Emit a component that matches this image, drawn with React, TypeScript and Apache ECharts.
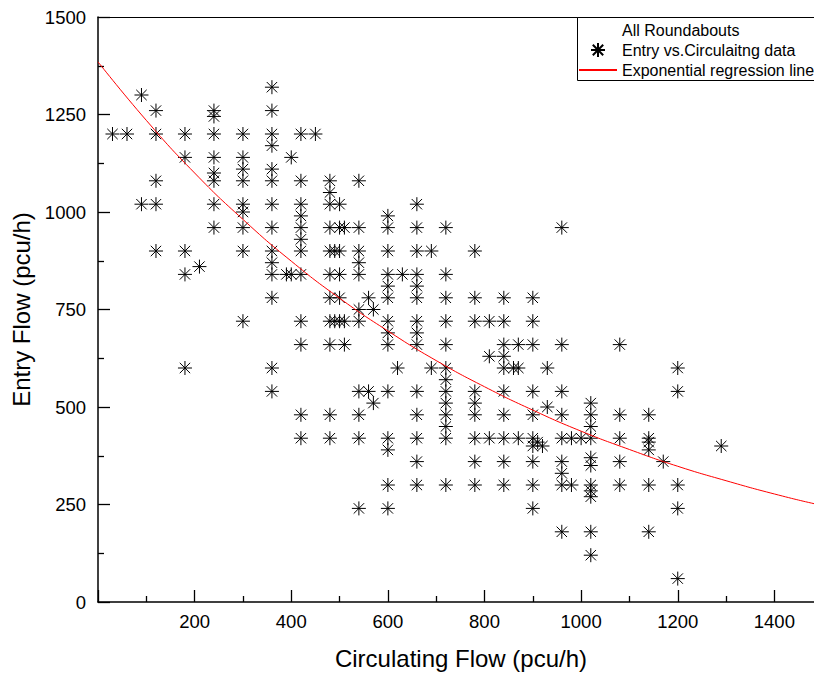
import React, { useEffect, useRef } from "react";
import * as echarts from "echarts";

// Scatter data: circulating flow (x) and entry flow (y), pcu/h
const circulatingFlow = [
  30, 60,
  90, 90,
  120, 120, 120, 120, 120,
  180, 180, 180, 180, 180,
  210,
  240, 240, 240, 240, 240, 240, 240, 240,
  300, 300, 300, 300, 300, 300, 300, 300, 300,
  360, 360, 360, 360, 360, 360, 360, 360, 360, 360, 360, 360, 360, 360,
  390,
  400, 400,
  420, 420, 420, 420, 420, 420, 420, 420, 420, 420, 420, 420,
  450,
  480, 480, 480, 480, 480, 480, 480, 480, 480, 480, 480,
  490, 490,
  500, 500, 500, 500, 500, 500,
  510, 510, 510,
  540, 540, 540, 540, 540, 540, 540, 540, 540, 540, 540,
  560, 560,
  570, 570,
  600, 600, 600, 600, 600, 600, 600, 600, 600, 600, 600, 600, 600, 600,
  620, 630,
  660, 660, 660, 660, 660, 660, 660, 660, 660, 660, 660, 660, 660, 660,
  690, 690,
  720, 720, 720, 720, 720, 720, 720, 720, 720, 720, 720, 720, 720,
  780, 780, 780, 780, 780, 780, 780, 780, 780,
  810, 810, 810,
  840, 840, 840, 840, 840, 840, 840, 840, 840, 840,
  860,
  870, 870, 870,
  900, 900, 900, 900, 900, 900, 900, 900, 900, 900,
  910, 920,
  930, 930,
  960, 960, 960, 960, 960, 960, 960, 960, 960,
  980, 980,
  1000,
  1020, 1020, 1020, 1020, 1020, 1020, 1020, 1020, 1020, 1020, 1020,
  1080, 1080, 1080, 1080, 1080,
  1140, 1140, 1140, 1140, 1140, 1140,
  1170,
  1200, 1200, 1200, 1200, 1200,
  1290,
];
const entryFlow = [
  1200, 1200,
  1300, 1020,
  1260, 1200, 1080, 1020, 900,
  1200, 1140, 900, 840, 600,
  860,
  1260, 1245, 1200, 1140, 1100, 1080, 1020, 960,
  1200, 1140, 1110, 1080, 1020, 1000, 960, 900, 720,
  1320, 1260, 1200, 1170, 1110, 1080, 1020, 960, 900, 870, 840, 780, 600, 540,
  840,
  1140, 840,
  1200, 1080, 1020, 990, 960, 930, 900, 840, 720, 660, 480, 420,
  1200,
  1080, 1050, 1020, 960, 900, 840, 780, 720, 660, 480, 420,
  900, 720,
  1020, 960, 900, 840, 780, 720,
  960, 720, 660,
  1080, 960, 900, 870, 840, 750, 720, 540, 480, 420, 240,
  780, 540,
  750, 510,
  990, 960, 900, 840, 810, 780, 720, 690, 660, 540, 420, 390, 300, 240,
  600, 840,
  1020, 960, 900, 840, 810, 780, 720, 690, 660, 540, 480, 420, 360, 300,
  900, 600,
  960, 840, 780, 720, 660, 600, 570, 540, 510, 480, 450, 420, 300,
  900, 780, 720, 540, 510, 480, 420, 360, 300,
  720, 630, 420,
  780, 720, 660, 630, 600, 540, 480, 420, 360, 300,
  600,
  660, 600, 420,
  780, 720, 660, 540, 480, 420, 400, 360, 300, 240,
  410, 400,
  600, 500,
  960, 660, 540, 480, 420, 360, 330, 300, 180,
  420, 300,
  420,
  510, 480, 450, 420, 370, 350, 300, 285, 270, 180, 120,
  660, 480, 420, 360, 300,
  480, 420, 410, 390, 300, 180,
  360,
  600, 540, 300, 240, 60,
  400,
];

// Exponential regression line
const regressionX = [0, 100, 200, 300, 400, 500, 600, 700, 800, 900, 1000, 1100, 1200, 1300, 1400, 1500, 1600];
const regressionY = [1385, 1235, 1100, 981, 874, 779, 695, 619, 552, 492, 438, 391, 348, 311, 277, 247, 220];

const yTicks = [0, 250, 500, 750, 1000, 1250, 1500];
const xTickLabels = [200, 400, 600, 800, 1000, 1200, 1400];

const legendTitle = "All Roundabouts";
const scatterName = "Entry vs.Circulaitng data";
const lineName = "Exponential regression line";
const xTitle = "Circulating Flow (pcu/h)";
const yTitle = "Entry Flow (pcu/h)";

const FONT = "'Liberation Sans', Arial, Helvetica, sans-serif";
const ASTERISK =
  "path://M7 0L7 14M0 7L14 7M1.8 1.8L12.2 12.2M1.8 12.2L12.2 1.8";

export default function App() {
  const ref = useRef<HTMLDivElement>(null);

  useEffect(() => {
    if (!ref.current) return;
    const chart = echarts.init(ref.current, undefined, { renderer: "svg" });

    const scatterData = circulatingFlow.map((x, i) => [x, entryFlow[i]]);
    const lineData = regressionX.map((x, i) => [x, regressionY[i]]);

    chart.setOption({
      animation: false,
      backgroundColor: "#ffffff",
      textStyle: { fontFamily: FONT, color: "#000" },
      grid: { left: 98, top: 17, right: 0, bottom: 73 },
      xAxis: [
        {
          type: "value",
          min: 0,
          max: 1600,
          interval: 200,
          position: "bottom",
          axisLine: { show: true, onZero: false, lineStyle: { color: "#000", width: 1.5 } },
          axisTick: { show: true, inside: true, length: 12, lineStyle: { color: "#000", width: 1.3 } },
          minorTick: { show: true, splitNumber: 2, length: 6, lineStyle: { color: "#000", width: 1.3 } },
          splitLine: { show: false },
          axisLabel: {
            show: true,
            margin: 10,
            fontSize: 18.5,
            fontFamily: FONT,
            color: "#000",
            formatter: (v: number) => (xTickLabels.indexOf(v) >= 0 ? String(v) : ""),
          },
        },
        {
          type: "value",
          min: 0,
          max: 1600,
          position: "top",
          axisLine: { show: true, onZero: false, lineStyle: { color: "#000", width: 1 } },
          axisTick: { show: false },
          axisLabel: { show: false },
          splitLine: { show: false },
        },
      ],
      yAxis: {
        type: "value",
        min: 0,
        max: 1500,
        interval: 250,
        name: yTitle,
        nameLocation: "middle",
        nameGap: 64,
        nameRotate: 90,
        nameTextStyle: { fontSize: 24, fontFamily: FONT, color: "#000" },
        axisLine: { show: true, onZero: false, lineStyle: { color: "#000", width: 1.5 } },
        axisTick: { show: true, inside: true, length: 12, lineStyle: { color: "#000", width: 1.3 } },
        minorTick: { show: true, splitNumber: 2, length: 6, lineStyle: { color: "#000", width: 1.3 } },
        splitLine: { show: false },
        axisLabel: {
          margin: 12,
          fontSize: 18.5,
          fontFamily: FONT,
          color: "#000",
          formatter: (v: number) => (yTicks.indexOf(v) >= 0 ? String(v) : ""),
        },
      },
      legend: {
        orient: "vertical",
        left: 578,
        top: 42,
        itemWidth: 38,
        itemHeight: 14,
        itemGap: 4,
        padding: 0,
        z: 5,
        textStyle: { fontSize: 16, fontFamily: FONT, color: "#000", lineHeight: 16 },
        data: [
          { name: scatterName },
          { name: lineName, itemStyle: { opacity: 0 } },
        ],
      },
      graphic: [
        {
          type: "rect",
          z: 3,
          shape: { x: 577.5, y: 17.5, width: 300, height: 63 },
          style: { fill: "#ffffff", stroke: "#000", lineWidth: 1 },
        },
        {
          type: "text",
          z: 4,
          x: 622,
          y: 30,
          style: {
            text: legendTitle,
            fontSize: 16,
            fontFamily: FONT,
            fill: "#000",
            textVerticalAlign: "middle",
            verticalAlign: "middle",
          },
        },
        {
          type: "text",
          z: 4,
          x: 461,
          y: 658,
          style: {
            text: xTitle,
            fontSize: 24,
            fontFamily: FONT,
            fill: "#000",
            align: "center",
            verticalAlign: "middle",
            textAlign: "center",
            textVerticalAlign: "middle",
          },
        },
      ],
      series: [
        {
          name: scatterName,
          type: "scatter",
          data: scatterData,
          symbol: ASTERISK,
          symbolSize: 14,
          itemStyle: { color: "#000", borderColor: "#000", borderWidth: 1, opacity: 1 },
          z: 2,
        },
        {
          name: lineName,
          type: "line",
          data: lineData,
          smooth: true,
          symbol: "none",
          showSymbol: false,
          lineStyle: { color: "#ff0000", width: 1 },
          itemStyle: { color: "#ff0000" },
          z: 3,
        },
      ],
    });

    return () => chart.dispose();
  }, []);

  return (
    <div
      style={{ position: "absolute", left: 0, top: 0, width: 814, height: 675, overflow: "hidden" }}
    >
      <div ref={ref} style={{ position: "absolute", left: 0, top: 0, width: 874, height: 675 }} />
    </div>
  );
}
